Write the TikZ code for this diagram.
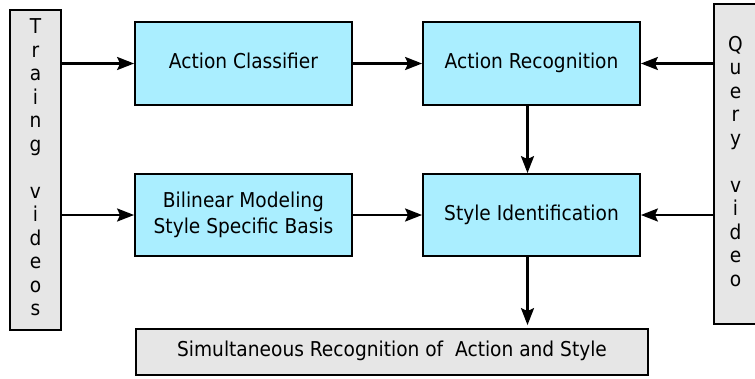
\documentclass[tikz,border=0pt]{standalone}
\usepackage{fontspec}
\setmainfont{DejaVu Sans}
\usetikzlibrary{arrows.meta,calc}
\definecolor{boxcyan}{RGB}{170,238,255}
\definecolor{boxgray}{RGB}{230,230,230}
\newcommand\mytxt[1]{\scalebox{1}[1.1]{\begin{tabular}{@{}c@{}}#1\end{tabular}}}
\tikzset{
  procbox/.style={draw=black, line width=1.8pt, fill=boxcyan, align=center, inner sep=0pt,
     minimum width=217pt, minimum height=83pt, font=\fontsize{18.6}{23.6}\selectfont},
  sidebox/.style={draw=black, line width=1.8pt, fill=boxgray, align=center, inner sep=0pt,
     minimum width=51pt, minimum height=320pt, font=\fontsize{18.6}{21.4}\selectfont},
  outbox/.style={draw=black, line width=1.8pt, fill=boxgray, align=center, inner sep=0pt,
     minimum width=512pt, minimum height=46pt, font=\fontsize{18.6}{22}\selectfont},
  flow/.style={line width=2.6pt, -{Stealth[length=17pt,width=13pt,inset=3pt]}}
}
\begin{document}
\begin{tikzpicture}[x=1pt,y=-1pt]
\useasboundingbox (0,0) rectangle (755,378);
\node[sidebox] (train) at (35.5,170) {\mytxt{T\\r\\a\\i\\n\\g\\ \\v\\i\\d\\e\\o\\s}};
\node[sidebox, minimum width=43pt] (query) at (735.5,164) {\mytxt{Q\\u\\e\\r\\y\\ \\v\\i\\d\\e\\o}};
\node[procbox] (ac) at (243.5,63.5) {\mytxt{Action Classifier}};
\node[procbox] (ar) at (531.5,63.5) {\mytxt{Action Recognition}};
\node[procbox, minimum height=82pt] (bm) at (243.5,215) {\mytxt{Bilinear Modeling\\Style Specific Basis}};
\node[procbox, minimum height=82pt] (si) at (531.5,215) {\mytxt{Style Identification}};
\node[outbox] (out) at (392,352) {\mytxt{Simultaneous Recognition of \ Action and Style}};
\coordinate (arS) at ($(ar.south)+(-4,0)$);
\coordinate (siS) at ($(si.south)+(-4,0)$);
\draw[flow] (train.east |- ac.west) -- (ac.west);
\draw[flow] (train.east |- bm.west) -- (bm.west);
\draw[flow] (ac.east) -- (ar.west);
\draw[flow] (bm.east) -- (si.west);
\draw[flow] (query.west |- ar.east) -- (ar.east);
\draw[flow] (query.west |- si.east) -- (si.east);
\draw[flow] (arS) -- (arS |- si.north);
\draw[flow, shorten >=3pt] (siS) -- (siS |- out.north);
\end{tikzpicture}
\end{document}
